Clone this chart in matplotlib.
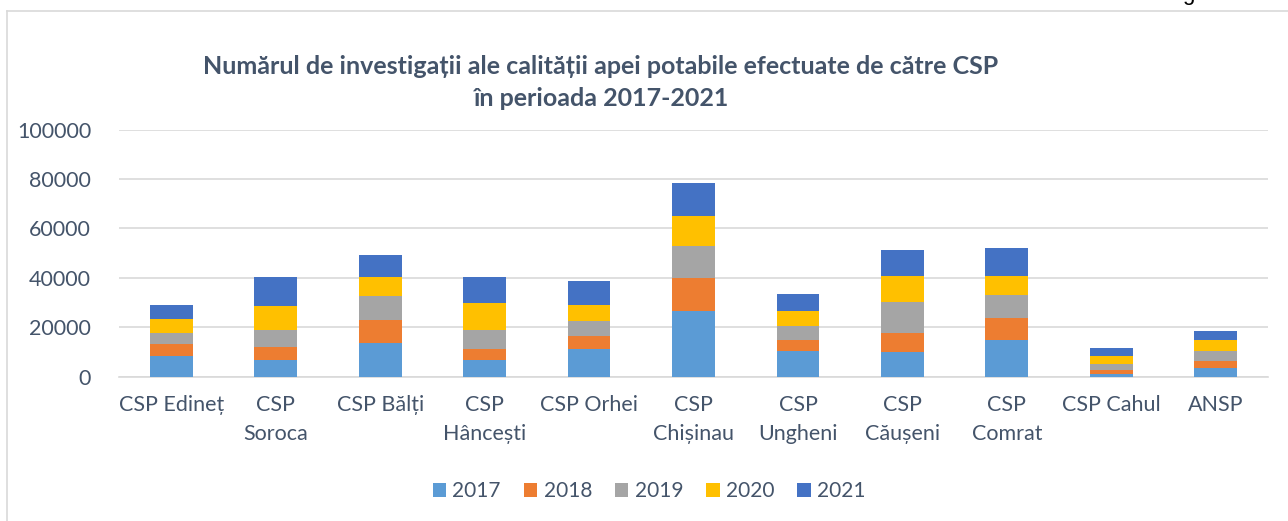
import matplotlib
matplotlib.use('Agg')
import matplotlib.pyplot as plt
import numpy as np

plt.rcParams['font.family'] = ['Lato', 'Noto Sans', 'DejaVu Sans']

# date
categorii = ['CSP Edineț', 'CSP\nSoroca', 'CSP Bălți', 'CSP\nHâncești', 'CSP Orhei',
             'CSP\nChișinau', 'CSP\nUngheni', 'CSP\nCăușeni', 'CSP\nComrat',
             'CSP Cahul', 'ANSP']
ani = ['2017', '2018', '2019', '2020', '2021']
v2017 = [8500, 6900, 13600, 6900, 11200, 26600, 10400, 10100, 15000, 1200, 3600]
v2018 = [4900, 5100, 9300, 4300, 5400, 13500, 4600, 7600, 8900, 1600, 2700]
v2019 = [4300, 7000, 9900, 7800, 5900, 12900, 5600, 12700, 9200, 2500, 4100]
v2020 = [5600, 9600, 7600, 10800, 6500, 12000, 6000, 10400, 7700, 3200, 4600]
v2021 = [5700, 11800, 8900, 10600, 9700, 13400, 6900, 10500, 11300, 3100, 3500]
culori = ['#5B9BD5', '#ED7D31', '#A5A5A5', '#FFC000', '#4472C4']

text_col = '#44546A'

fig = plt.figure(figsize=(12.88, 5.21), dpi=100)
ax = fig.add_axes([119/1288, 1 - 376.7/521, (1268-119)/1288, (376.7-129.6)/521])

x = np.arange(len(categorii))
jos = np.zeros(len(categorii))
for an, vals, c in zip(ani, [v2017, v2018, v2019, v2020, v2021], culori):
    ax.bar(x, vals, width=0.41, bottom=jos, color=c, label=an, zorder=3)
    jos += np.array(vals)

ax.set_xlim(-0.5, len(categorii) - 0.5)
ax.set_ylim(0, 100000)
ax.set_yticks(np.arange(0, 100001, 20000))
ax.yaxis.grid(True, color='#D9D9D9', lw=1.2, zorder=0)
ax.set_xticks(x)
ax.set_xticklabels(categorii, linespacing=1.55)
ax.tick_params(axis='both', length=0, labelsize=15.5, colors=text_col)
ax.tick_params(axis='y', pad=20)
ax.tick_params(axis='x', pad=13)
for s in ['top', 'right', 'left']:
    ax.spines[s].set_visible(False)
ax.spines['bottom'].set_color('#D9D9D9')
ax.spines['bottom'].set_linewidth(1.2)

fig.text(601/1288, 1 - 82.5/521,
         'Numărul de investigații ale calității apei potabile efectuate de către CSP\nîn perioada 2017-2021',
         ha='center', va='center', fontsize=18, fontweight='bold', color=text_col, linespacing=1.45)

leg = fig.legend(loc='center', bbox_to_anchor=(649/1288, 1 - 491/521), ncol=5, frameon=False,
                 fontsize=15, handlelength=0.65, handleheight=0.65, handletextpad=0.3,
                 columnspacing=1.1)
for t in leg.get_texts():
    t.set_color(text_col)

# chenarul graficului
fig.add_artist(plt.Line2D([7/1288, 7/1288], [0, 1 - 11/521], transform=fig.transFigure,
                          color='#D9D9D9', lw=1.2))
fig.add_artist(plt.Line2D([7/1288, 1], [1 - 11/521, 1 - 11/521], transform=fig.transFigure,
                          color='#D9D9D9', lw=1.2))
fig.text(1188/1288, 1.0, 'g', fontsize=16, color='black', va='baseline', ha='center',
         family='Liberation Sans')

fig.savefig('out.png', dpi=100)
